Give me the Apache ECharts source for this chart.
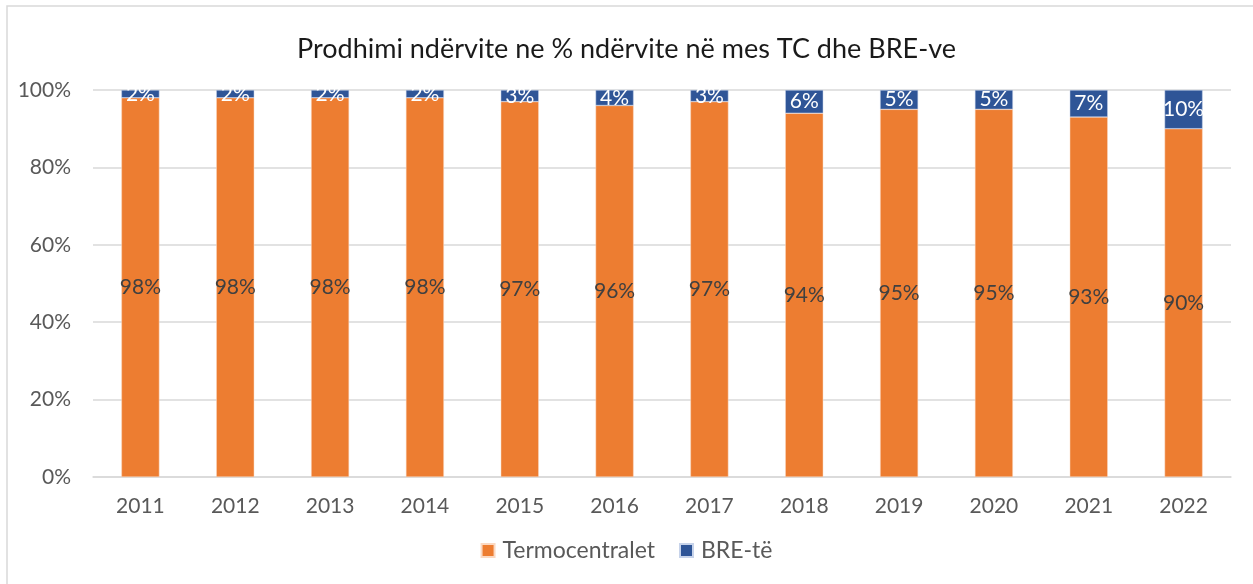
<!DOCTYPE html>
<html>
<head>
<meta charset="utf-8">
<script src="https://cdn.jsdelivr.net/npm/echarts@6/dist/echarts.min.js"></script>
<style>
  html, body { margin: 0; padding: 0; background: #fff; }
  #chart { width: 1253px; height: 584px; }
</style>
</head>
<body>
<div id="chart"></div>
<script>
const years = ["2011", "2012", "2013", "2014", "2015", "2016", "2017", "2018", "2019", "2020", "2021", "2022"];
const termocentralet = [98, 98, 98, 98, 97, 96, 97, 94, 95, 95, 93, 90];
const bre = [2, 2, 2, 2, 3, 4, 3, 6, 5, 5, 7, 10];
const yTicks = [0, 20, 40, 60, 80, 100];

const chart = echarts.init(document.getElementById("chart"));
const font = "Lato, 'Open Sans', sans-serif";

chart.setOption({
    animation: false,
    textStyle: { fontFamily: font },
    graphic: [{
        type: "rect",
        shape: { x: 7, y: 6, width: 1260, height: 600 },
        style: { fill: "none", stroke: "#d9d9d9", lineWidth: 1.5 },
        silent: true
    }],
    title: {
        text: "Prodhimi ndërvite ne % ndërvite në mes TC dhe BRE-ve",
        left: "center",
        top: 31,
        textStyle: { fontFamily: font, fontSize: 27, fontWeight: "normal", color: "#1a1a1a" }
    },
    legend: {
        bottom: 17,
        left: "center",
        icon: "rect",
        itemWidth: 13,
        itemHeight: 13,
        itemGap: 24,
        textStyle: { fontFamily: font, fontSize: 23, color: "#595959", padding: [0, 0, 0, 3] },
        data: ["Termocentralet", "BRE-të"]
    },
    grid: { left: 93, right: 22, top: 90, bottom: 107 },
    xAxis: {
        type: "category",
        data: years,
        axisTick: { show: false },
        axisLine: { lineStyle: { color: "#d9d9d9", width: 1.5 } },
        axisLabel: { color: "#595959", fontSize: 21, margin: 19, fontFamily: font }
    },
    yAxis: {
        type: "value",
        min: yTicks[0],
        max: yTicks[yTicks.length - 1],
        interval: 20,
        axisLine: { show: false },
        axisTick: { show: false },
        splitLine: { lineStyle: { color: "#d9d9d9", width: 1.5 } },
        axisLabel: { color: "#595959", fontSize: 21, margin: 22, fontFamily: font, formatter: "{value}%" }
    },
    series: [
        {
            name: "Termocentralet",
            type: "bar",
            stack: "total",
            barWidth: 38,
            data: termocentralet,
            itemStyle: { color: "#ED7D31", borderColor: "#fbd9c2", borderWidth: 0.5 },
            label: {
                show: true,
                position: "inside",
                formatter: "{c}%",
                color: "#404040",
                fontSize: 21,
                fontFamily: font
            }
        },
        {
            name: "BRE-të",
            type: "bar",
            stack: "total",
            barWidth: 38,
            data: bre,
            itemStyle: { color: "#2F5597", borderColor: "#c7d3ea", borderWidth: 0.5 },
            label: {
                show: true,
                position: "inside",
                formatter: "{c}%",
                color: "#ffffff",
                fontSize: 21,
                fontFamily: font
            }
        }
    ]
});
</script>
</body>
</html>
